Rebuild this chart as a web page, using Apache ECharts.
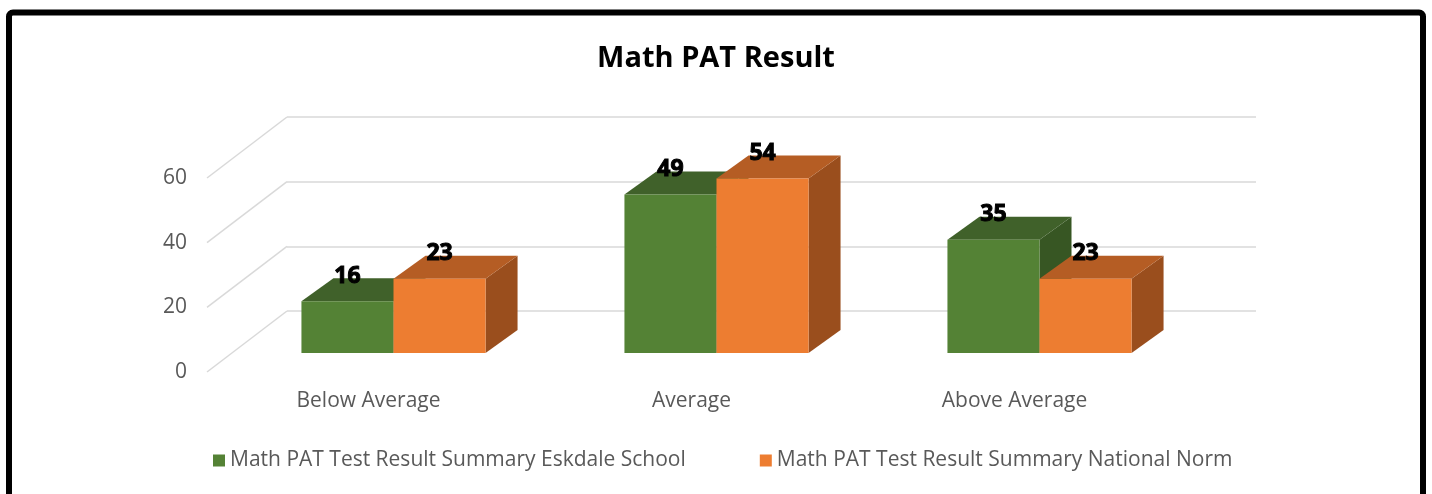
<!DOCTYPE html>
<html>
<head>
<meta charset="utf-8">
<script src="https://cdn.jsdelivr.net/npm/echarts@6/dist/echarts.min.js"></script>
<style>
body{margin:0;background:#fff;}
#chart{width:1432px;height:494px;}
</style>
</head>
<body>
<div id="chart"></div>
<script>
var categories = ['Below Average', 'Average', 'Above Average'];
var schoolValues = [16, 49, 35];
var nationalValues = [23, 54, 23];
var seriesNames = ['Math PAT Test Result Summary Eskdale School', 'Math PAT Test Result Summary National Norm'];
var yTicks = [0, 20, 40, 60];

var chart = echarts.init(document.getElementById('chart'));

// fake 3d: offsets in px from the back wall
var FLOOR_DX = -80, FLOOR_DY = 61;
var BAR_DX = -55, BAR_DY = 42;
var DEPTH_DX = 32, DEPTH_DY = -23;

var greenFaces = {front: '#548235', top: '#40612a', side: '#375623'};
var orangeFaces = {front: '#ed7d31', top: '#b55d24', side: '#9a4e1d'};

function boxRenderer(side, faces) {
  return function (params, api) {
    var cat = api.value(0), v = api.value(1);
    var base = api.coord([cat, 0]);
    var top = api.coord([cat, v]);
    var w = api.size([1, 0])[0] * 0.285;
    var x0 = base[0] + BAR_DX + (side === 0 ? -w : 0);
    var x1 = x0 + w;
    var yb = base[1] + BAR_DY;
    var yt = top[1] + BAR_DY;
    return {
      type: 'group',
      children: [
        {type: 'polygon', shape: {points: [[x1, yt], [x1 + DEPTH_DX, yt + DEPTH_DY], [x1 + DEPTH_DX, yb + DEPTH_DY], [x1, yb]]}, style: {fill: faces.side}},
        {type: 'polygon', shape: {points: [[x0, yt], [x1, yt], [x1 + DEPTH_DX, yt + DEPTH_DY], [x0 + DEPTH_DX, yt + DEPTH_DY]]}, style: {fill: faces.top}},
        {type: 'rect', shape: {x: x0, y: yt, width: w, height: yb - yt}, style: {fill: faces.front}},
        {type: 'text', x: (x0 + x1) / 2, y: yt + DEPTH_DY - 2, style: {
          text: String(v), fill: '#000', font: 'bold 23px "Open Sans"', align: 'center', verticalAlign: 'middle',
          stroke: '#000', lineWidth: 1
        }}
      ]
    };
  };
}

function pairs(vals) {
  return vals.map(function (v, i) { return [i, v]; });
}

chart.setOption({
  animation: false,
  backgroundColor: '#fff',
  title: {
    text: 'Math PAT Result',
    left: 'center',
    top: 39,
    textStyle: {fontSize: 29, fontWeight: 'bold', color: '#000', fontFamily: 'Open Sans'}
  },
  legend: {
    data: seriesNames,
    left: 208,
    top: 445,
    icon: 'rect',
    itemWidth: 12,
    itemHeight: 12,
    itemGap: 74,
    textStyle: {fontSize: 21, color: '#595959', fontFamily: 'Open Sans'}
  },
  grid: [
    {left: 287, top: 117, width: 969, height: 194},
    {left: 207, top: 178, width: 969, height: 194}
  ],
  xAxis: [
    {type: 'category', gridIndex: 0, data: categories, show: false},
    {type: 'category', gridIndex: 1, data: categories,
      axisLine: {show: false}, axisTick: {show: false},
      axisLabel: {margin: 19, color: '#595959', fontSize: 21, fontFamily: 'Open Sans'}}
  ],
  yAxis: [
    {type: 'value', gridIndex: 0, min: 0, max: 60, interval: 20,
      axisLabel: {show: false}, axisLine: {show: false}, axisTick: {show: false},
      splitLine: {lineStyle: {color: '#d9d9d9', width: 1.5}}},
    {type: 'value', gridIndex: 1, min: 0, max: 60, interval: 20,
      axisLine: {show: false}, axisTick: {show: false}, splitLine: {show: false},
      axisLabel: {margin: 20, color: '#595959', fontSize: 21, fontFamily: 'Open Sans'}}
  ],
  series: [
    {
      type: 'custom', name: 'sidewall', xAxisIndex: 0, yAxisIndex: 0, silent: true,
      data: yTicks.map(function (t) { return [0, t]; }),
      renderItem: function (params, api) {
        var y = api.coord([0, api.value(1)])[1];
        var x = params.coordSys.x;
        return {type: 'line', shape: {x1: x, y1: y, x2: x + FLOOR_DX, y2: y + FLOOR_DY},
          style: {stroke: '#d9d9d9', lineWidth: 1.5}};
      }
    },
    {
      type: 'custom', name: seriesNames[0], xAxisIndex: 0, yAxisIndex: 0,
      itemStyle: {color: greenFaces.front},
      data: pairs(schoolValues),
      renderItem: boxRenderer(0, greenFaces)
    },
    {
      type: 'custom', name: seriesNames[1], xAxisIndex: 0, yAxisIndex: 0,
      itemStyle: {color: orangeFaces.front},
      data: pairs(nationalValues),
      renderItem: boxRenderer(1, orangeFaces)
    }
  ],
  graphic: [{
    type: 'rect', z: 100, silent: true,
    shape: {x: 9, y: 12.5, width: 1414, height: 540, r: 4},
    style: {fill: 'none', stroke: '#000', lineWidth: 6}
  }]
});
</script>
</body>
</html>
